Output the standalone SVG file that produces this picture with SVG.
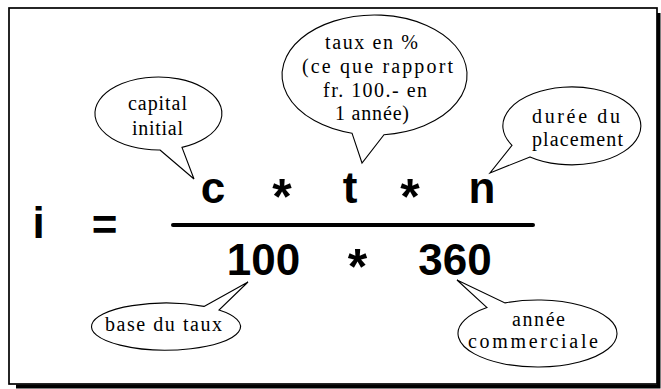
<svg xmlns="http://www.w3.org/2000/svg" width="661" height="389" viewBox="0 0 661 389">
  <style>
    .frame { fill: #ffffff; stroke: #000000; stroke-width: 1.7; }
    .shadow { fill: #000000; }
    .bubble { fill: #ffffff; stroke: #000000; stroke-width: 1.1; stroke-linejoin: miter; }
    .note { font-family: "Liberation Serif", "Times New Roman", serif; font-size: 20px; fill: #000000; }
    .big { font-family: "Liberation Sans", Arial, sans-serif; font-weight: bold; font-size: 44px; fill: #000000; text-anchor: middle; }
    .star { font-size: 50px; }
    .bar { stroke: #000000; stroke-width: 4; stroke-linecap: round; }
  </style>

  <!-- page frame with drop shadow -->
  <path class="shadow" d="M657,13 H660.5 V388.5 H16 V384.5 H657 Z"/>
  <rect class="frame" x="9" y="8" width="648" height="376"/>

  <!-- formula -->
  <g id="formula">
    <text class="big" x="38.5" y="238">i</text>
    <text class="big" x="104.5" y="240" font-size="46">=</text>
    <text class="big" x="213" y="203">c</text>
    <text class="big star" x="282" y="214">*</text>
    <text class="big" x="350" y="203">t</text>
    <text class="big star" x="410" y="214">*</text>
    <text class="big" x="482" y="203">n</text>
    <line class="bar" x1="173" y1="225" x2="533" y2="225"/>
    <text class="big" x="263.5" y="275">100</text>
    <text class="big star" x="357.5" y="284">*</text>
    <text class="big" x="455" y="275">360</text>
  </g>

  <!-- callout: capital -->
  <g id="capital">
    <path class="bubble" d="M160,150 L194,179 L182,147.4 A63.5,36.5 0 1 0 160,150 Z"/>
    <text class="note" x="128" y="110" textLength="59" lengthAdjust="spacing">capital</text>
    <text class="note" x="132" y="135" textLength="51" lengthAdjust="spacing">initial</text>
  </g>

  <!-- callout: rate -->
  <g id="taux">
    <path class="bubble" d="M352,133.2 L362,163 L384,134.7 A92.5,60 0 1 0 352,133.2 Z"/>
    <text class="note" x="325" y="49" textLength="93" lengthAdjust="spacing">taux en %</text>
    <text class="note" x="302" y="73" textLength="151" lengthAdjust="spacing">(ce que rapport</text>
    <text class="note" x="323" y="97" textLength="104" lengthAdjust="spacing">fr. 100.- en</text>
    <text class="note" x="335" y="120" textLength="74" lengthAdjust="spacing">1 année)</text>
  </g>

  <!-- callout: duration -->
  <g id="duree">
    <path class="bubble" d="M530,156.9 L490,173 L512,145.3 A69,39 0 1 1 530,156.9 Z"/>
    <text class="note" x="532" y="123" textLength="88" lengthAdjust="spacing">durée du</text>
    <text class="note" x="532" y="145.5" textLength="91" lengthAdjust="spacing">placement</text>
  </g>

  <!-- callout: base rate -->
  <g id="base">
    <path class="bubble" d="M204,306.4 L248,282 L219,310.1 A74.5,23.5 0 1 1 204,306.4 Z"/>
    <text class="note" x="105" y="331" textLength="117" lengthAdjust="spacing">base du taux</text>
  </g>

  <!-- callout: commercial year -->
  <g id="annee">
    <path class="bubble" d="M487,307.6 L457,280 L505,302.9 A79.5,33.5 0 1 1 487,307.6 Z"/>
    <text class="note" x="512" y="325.5" textLength="53" lengthAdjust="spacing">année</text>
    <text class="note" x="468" y="348" textLength="130" lengthAdjust="spacing">commerciale</text>
  </g>
</svg>
